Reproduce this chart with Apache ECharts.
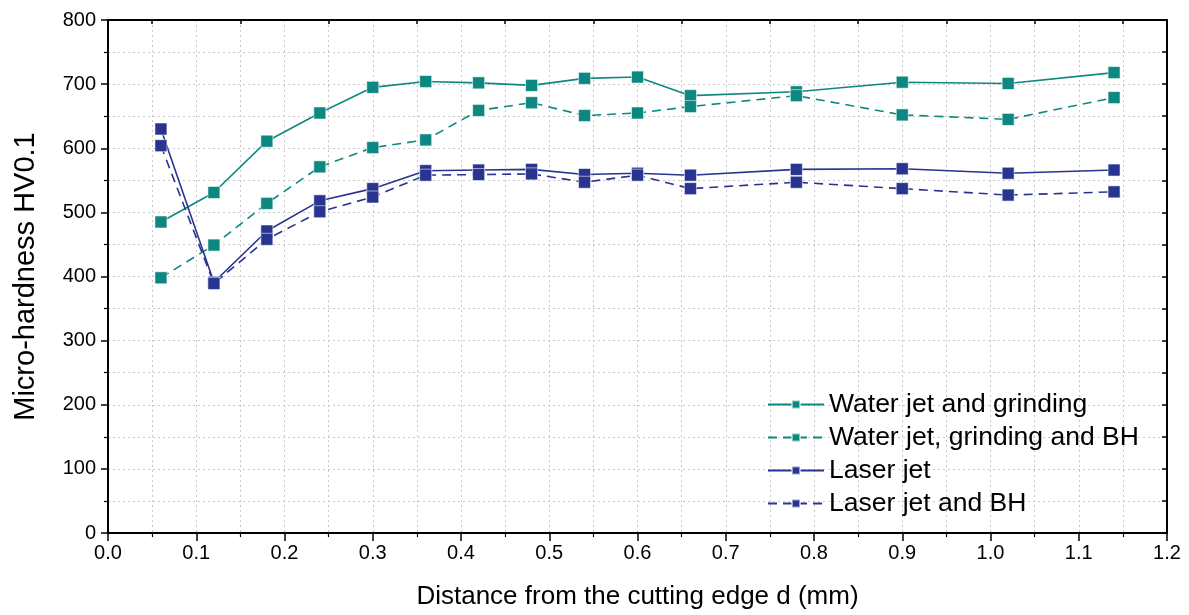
<!DOCTYPE html>
<html>
<head>
<meta charset="utf-8">
<script src="https://cdn.jsdelivr.net/npm/echarts@6/dist/echarts.min.js"></script>
<style>
html,body{margin:0;padding:0;background:#fff;}
#chart{width:1189px;height:615px;}
</style>
</head>
<body>
<div id="chart"></div>
<script>
const distance = [0.06, 0.12, 0.18, 0.24, 0.30, 0.36, 0.42, 0.48, 0.54, 0.60, 0.66, 0.78, 0.90, 1.02, 1.14];
const waterJetGrinding = [485, 531, 611, 655, 695, 704, 702, 698, 709, 711, 682, 688, 703, 701, 718];
const waterJetGrindingBH = [398, 449, 514, 571, 601, 613, 659, 671, 651, 655, 665, 682, 652, 645, 679];
const laserJet = [630, 391, 471, 518, 537, 565, 566, 567, 559, 561, 558, 567, 568, 561, 566];
const laserJetBH = [604, 389, 458, 501, 524, 558, 559, 560, 547, 558, 537, 547, 537, 527, 532];
const seriesNames = ['Water jet and grinding', 'Water jet, grinding and BH', 'Laser jet', 'Laser jet and BH'];
const xTicks = [0, 0.1, 0.2, 0.3, 0.4, 0.5, 0.6, 0.7, 0.8, 0.9, 1.0, 1.1, 1.2];

const teal = '#0d8880';
const blue = '#28348f';

function pairs(ys) { return distance.map((x, i) => [x, ys[i]]); }

function mk(name, ys, color, dashed) {
  return {
    name: name, type: 'line', data: pairs(ys),
    symbol: 'rect', symbolSize: 12,
    lineStyle: { color: color, width: 1.6, type: dashed ? [9, 6] : 'solid' },
    itemStyle: { color: color, borderColor: 'rgba(255,255,255,0.55)', borderWidth: 1 },
    emphasis: { disabled: true }, animation: false
  };
}

const chart = echarts.init(document.getElementById('chart'), null, { renderer: 'canvas' });
const grid = { left: 108, right: 22, top: 20, bottom: 81 };
const dotted = { show: true, lineStyle: { color: '#c8c8c8', type: [2, 3], width: 1 } };
chart.setOption({
  animation: false,
  backgroundColor: '#fff',
  grid: grid,
  legend: {
    orient: 'vertical', left: 762, top: 386, itemGap: 6,
    itemWidth: 56, itemHeight: 10,
    textStyle: { fontFamily: 'Liberation Sans, Arial', fontSize: 26.5, color: '#000' },
    data: seriesNames
  },
  xAxis: [{
    type: 'value', min: 0, max: 1.2, interval: 0.1,
    name: 'Distance from the cutting edge d (mm)', nameLocation: 'middle', nameGap: 51,
    nameTextStyle: { fontFamily: 'Liberation Sans Narrow, Arial Narrow, Liberation Sans', fontSize: 26, color: '#000' },
    axisLine: { show: true, onZero: false, lineStyle: { color: '#000', width: 2 } },
    axisTick: { show: true, inside: false, length: 8, lineStyle: { color: '#000', width: 1.5 } },
    minorTick: { show: true, splitNumber: 2, length: 4, lineStyle: { color: '#000', width: 1.2 } },
    axisLabel: { color: '#000', fontSize: 20, margin: 10, fontFamily: 'Liberation Sans Narrow, Arial Narrow, Liberation Sans',
      formatter: v => { const t = xTicks.find(k => Math.abs(k - v) < 1e-9); return (t === undefined ? v : t).toFixed(1); } },
    splitLine: dotted, minorSplitLine: dotted
  }, {
    type: 'value', min: 0, max: 1.2, interval: 0.1, position: 'top',
    axisLine: { show: true, onZero: false, lineStyle: { color: '#000', width: 2 } },
    axisTick: { show: false, inside: true },
    minorTick: { show: true, splitNumber: 2, length: 4, lineStyle: { color: '#000', width: 1.5 } },
    axisLabel: { show: false }, splitLine: { show: false }
  }],
  yAxis: [{
    type: 'value', min: 0, max: 800, interval: 100,
    name: 'Micro-hardness HV0.1', nameLocation: 'middle', nameGap: 68,
    nameTextStyle: { fontFamily: 'Liberation Sans, Arial', fontSize: 29, color: '#000' },
    axisLine: { show: true, onZero: false, lineStyle: { color: '#000', width: 2 } },
    axisTick: { show: true, inside: false, length: 7, lineStyle: { color: '#000', width: 1.5 } },
    minorTick: { show: true, splitNumber: 2, length: 4, lineStyle: { color: '#000', width: 1.2 } },
    axisLabel: { color: '#000', fontSize: 20, margin: 12, fontFamily: 'Liberation Sans, Arial' },
    splitLine: dotted, minorSplitLine: dotted
  }, {
    type: 'value', min: 0, max: 800, interval: 50, position: 'right',
    axisLine: { show: true, onZero: false, lineStyle: { color: '#000', width: 2 } },
    axisTick: { show: true, inside: true, length: 5, lineStyle: { color: '#000', width: 1.5 } },
    axisLabel: { show: false }, splitLine: { show: false }
  }],
  series: [
    mk(seriesNames[0], waterJetGrinding, teal, false),
    mk(seriesNames[1], waterJetGrindingBH, teal, true),
    mk(seriesNames[2], laserJet, blue, false),
    mk(seriesNames[3], laserJetBH, blue, true)
  ]
});
</script>
</body>
</html>
